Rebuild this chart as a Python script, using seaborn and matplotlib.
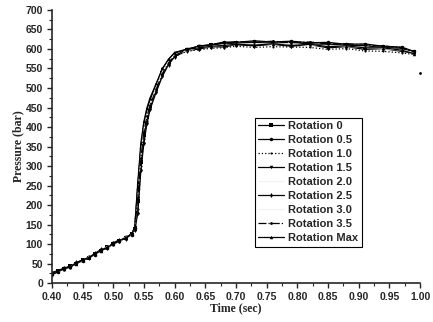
import matplotlib
matplotlib.use("Agg")
import matplotlib.pyplot as plt
import seaborn as sns
import pandas as pd
from matplotlib.ticker import MultipleLocator

# time axis (sec)
time = [0.40, 0.41, 0.42, 0.43, 0.44, 0.45, 0.46, 0.47, 0.48, 0.49, 0.50, 0.51, 0.52,
        0.53, 0.535, 0.54, 0.545, 0.55, 0.555, 0.56, 0.57, 0.58, 0.59, 0.60, 0.62, 0.64,
        0.66, 0.68, 0.70, 0.73, 0.76, 0.79, 0.82, 0.85, 0.88, 0.91, 0.94, 0.97, 0.99]

# pressure (bar)
rot_0 = [22, 31, 35, 44, 49, 60, 65, 75, 82, 93, 99, 109, 115, 126, 138, 210, 310, 380, 425, 455,
         498, 538, 566, 584, 598, 604, 609, 612, 615, 614, 616, 613, 614, 609, 610, 605, 605, 599, 593]
rot_05 = [26, 29, 37, 41, 52, 57, 67, 73, 85, 91, 101, 107, 117, 124, 142, 240, 345, 405, 440, 465,
          505, 545, 570, 588, 598, 608, 611, 618, 617, 621, 618, 620, 616, 617, 612, 613, 607, 605, 594]
rot_10 = [20, 33, 34, 45, 48, 61, 64, 77, 81, 94, 98, 110, 114, 127, 136, 190, 300, 370, 415, 450,
          492, 534, 562, 582, 594, 598, 602, 603, 607, 604, 606, 605, 604, 599, 601, 595, 594, 590, 586]
rot_15 = [25, 28, 38, 43, 51, 56, 68, 72, 84, 90, 102, 106, 118, 123, 144, 250, 350, 410, 445, 470,
          508, 548, 572, 590, 600, 607, 609, 616, 614, 618, 613, 619, 611, 613, 609, 609, 602, 603, 590]
rot_20 = [23, 30, 36, 42, 50, 58, 66, 74, 83, 92, 100, 108, 116, 125, 140, 230, 330, 395, 430, 458,
          500, 540, 567, 585, 597, 603, 607, 610, 612, 613, 612, 613, 610, 608, 607, 604, 602, 598, 590]
rot_25 = [27, 32, 39, 40, 53, 59, 63, 76, 86, 89, 103, 111, 113, 128, 135, 180, 290, 360, 410, 445,
          490, 530, 560, 580, 596, 600, 606, 605, 611, 608, 612, 607, 611, 603, 606, 599, 601, 594, 590]
rot_30 = [24, 30, 35, 43, 49, 57, 67, 73, 82, 93, 99, 107, 117, 124, 141, 235, 335, 398, 433, 460,
          502, 542, 568, 586, 596, 604, 606, 611, 611, 614, 611, 614, 609, 609, 606, 605, 601, 597, 591]
rot_35 = [21, 29, 37, 44, 51, 60, 64, 75, 84, 90, 101, 109, 115, 126, 139, 220, 320, 390, 428, 456,
          497, 537, 564, 583, 599, 606, 612, 615, 619, 617, 620, 616, 618, 613, 614, 609, 608, 603, 592]
rot_max = [25, 31, 36, 42, 50, 58, 66, 74, 83, 92, 100, 108, 116, 125, 145, 260, 360, 415, 450, 475,
           512, 550, 574, 591, 599, 603, 607, 609, 612, 610, 613, 609, 612, 606, 608, 603, 603, 597, 588]

labels = ["Rotation 0", "Rotation 0.5", "Rotation 1.0", "Rotation 1.5", "Rotation 2.0",
          "Rotation 2.5", "Rotation 3.0", "Rotation 3.5", "Rotation Max"]
series = [rot_0, rot_05, rot_10, rot_15, rot_20, rot_25, rot_30, rot_35, rot_max]

# lone point at the right edge
stray_t = [1.00]
stray_p = [538]

sns.set_style("ticks")
plt.rcParams["font.family"] = ["Liberation Sans", "DejaVu Sans"]

fig = plt.figure(figsize=(4.33, 3.22), dpi=100)
ax = fig.add_axes([0.12, 0.121, 0.85, 0.848])

styles = [
    dict(marker="s", linestyle="-", color="black", ms=2.5),
    dict(marker="o", linestyle="-", color="black", ms=2.5),
    dict(marker=".", linestyle=":", color="black", ms=3),
    dict(marker="v", linestyle="-", color="black", ms=2.5),
    dict(marker=None, linestyle="-", color="#f2f2f2", ms=0),
    dict(marker="d", linestyle="-", color="black", ms=2.5),
    dict(marker=None, linestyle="-", color="#f2f2f2", ms=0),
    dict(marker="o", linestyle="-.", color="black", ms=2),
    dict(marker="^", linestyle="-", color="black", ms=2.5),
]

for lab, vals, st in zip(labels, series, styles):
    df = pd.DataFrame({"t": time, "p": vals})
    sns.lineplot(data=df, x="t", y="p", ax=ax, label=lab, color=st["color"],
                 linestyle=st["linestyle"], marker=st["marker"], markersize=st["ms"],
                 markeredgewidth=0, linewidth=0.9)

sns.scatterplot(x=stray_t, y=stray_p, ax=ax, color="black", s=4, linewidth=0, clip_on=False)

ax.set_xlim(0.40, 1.00)
ax.set_ylim(0, 700)
ax.xaxis.set_major_locator(MultipleLocator(0.05))
ax.xaxis.set_minor_locator(MultipleLocator(0.025))
ax.yaxis.set_major_locator(MultipleLocator(50))
ax.yaxis.set_minor_locator(MultipleLocator(25))
ax.xaxis.set_major_formatter(matplotlib.ticker.FormatStrFormatter("%.2f"))
ax.tick_params(which="major", length=3.5, width=1, labelsize=7.5, direction="out", pad=3)
ax.tick_params(which="minor", length=2, width=0.8, direction="out")
for lbl in ax.get_xticklabels() + ax.get_yticklabels():
    lbl.set_fontweight("bold")
sns.despine(ax=ax)
for sp in ["left", "bottom"]:
    ax.spines[sp].set_linewidth(1.2)

ax.set_xlabel("Time (sec)", family="Liberation Serif", fontweight="bold", fontsize=8.5, labelpad=0)
ax.set_ylabel("Pressure (bar)", family="Liberation Serif", fontweight="bold", fontsize=8.5, labelpad=1)

leg = ax.legend(loc="upper left", bbox_to_anchor=(0.552, 0.605), frameon=True, fancybox=False,
                edgecolor="black", framealpha=1, prop=dict(family="Liberation Sans", weight="bold", size=8),
                labelspacing=0.36, handlelength=2.3, handletextpad=0.4, borderpad=0.3, borderaxespad=0)
leg.get_frame().set_linewidth(0.8)

fig.savefig("out.png", dpi=100)
